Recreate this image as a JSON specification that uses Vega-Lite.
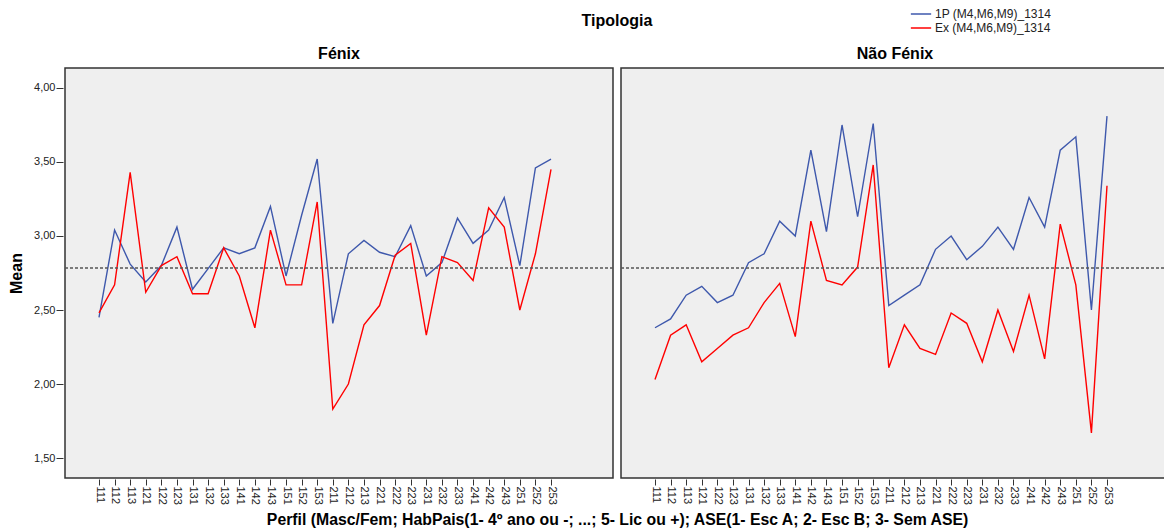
{
  "$schema": "https://vega.github.io/schema/vega-lite/v6.json",
  "background": "white",
  "padding": {"left": 8, "top": 6, "right": 0, "bottom": 0},
  "config": {
    "font": "Liberation Sans",
    "view": {"stroke": "#333333", "strokeWidth": 1.5, "fill": "#efefef"}
  },
  "title": {
    "text": "Perfil (Masc/Fem; HabPais(1- 4º ano ou -; ...; 5- Lic ou +); ASE(1- Esc A; 2- Esc B; 3- Sem ASE)",
    "orient": "bottom",
    "anchor": "middle",
    "fontSize": 15.8,
    "fontWeight": "bold",
    "color": "#000000",
    "offset": 9,
    "dx": 28
  },
  "data": {"values": [
    {"Tipologia":"Fénix","serie":"1P (M4,M6,M9)_1314","Perfil":"111","Mean":2.45},
    {"Tipologia":"Fénix","serie":"1P (M4,M6,M9)_1314","Perfil":"112","Mean":3.04},
    {"Tipologia":"Fénix","serie":"1P (M4,M6,M9)_1314","Perfil":"113","Mean":2.81},
    {"Tipologia":"Fénix","serie":"1P (M4,M6,M9)_1314","Perfil":"121","Mean":2.69},
    {"Tipologia":"Fénix","serie":"1P (M4,M6,M9)_1314","Perfil":"122","Mean":2.80},
    {"Tipologia":"Fénix","serie":"1P (M4,M6,M9)_1314","Perfil":"123","Mean":3.06},
    {"Tipologia":"Fénix","serie":"1P (M4,M6,M9)_1314","Perfil":"131","Mean":2.64},
    {"Tipologia":"Fénix","serie":"1P (M4,M6,M9)_1314","Perfil":"132","Mean":2.78},
    {"Tipologia":"Fénix","serie":"1P (M4,M6,M9)_1314","Perfil":"133","Mean":2.92},
    {"Tipologia":"Fénix","serie":"1P (M4,M6,M9)_1314","Perfil":"141","Mean":2.88},
    {"Tipologia":"Fénix","serie":"1P (M4,M6,M9)_1314","Perfil":"142","Mean":2.92},
    {"Tipologia":"Fénix","serie":"1P (M4,M6,M9)_1314","Perfil":"143","Mean":3.20},
    {"Tipologia":"Fénix","serie":"1P (M4,M6,M9)_1314","Perfil":"151","Mean":2.73},
    {"Tipologia":"Fénix","serie":"1P (M4,M6,M9)_1314","Perfil":"152","Mean":3.14},
    {"Tipologia":"Fénix","serie":"1P (M4,M6,M9)_1314","Perfil":"153","Mean":3.52},
    {"Tipologia":"Fénix","serie":"1P (M4,M6,M9)_1314","Perfil":"211","Mean":2.41},
    {"Tipologia":"Fénix","serie":"1P (M4,M6,M9)_1314","Perfil":"212","Mean":2.88},
    {"Tipologia":"Fénix","serie":"1P (M4,M6,M9)_1314","Perfil":"213","Mean":2.97},
    {"Tipologia":"Fénix","serie":"1P (M4,M6,M9)_1314","Perfil":"221","Mean":2.89},
    {"Tipologia":"Fénix","serie":"1P (M4,M6,M9)_1314","Perfil":"222","Mean":2.86},
    {"Tipologia":"Fénix","serie":"1P (M4,M6,M9)_1314","Perfil":"223","Mean":3.07},
    {"Tipologia":"Fénix","serie":"1P (M4,M6,M9)_1314","Perfil":"231","Mean":2.73},
    {"Tipologia":"Fénix","serie":"1P (M4,M6,M9)_1314","Perfil":"232","Mean":2.82},
    {"Tipologia":"Fénix","serie":"1P (M4,M6,M9)_1314","Perfil":"233","Mean":3.12},
    {"Tipologia":"Fénix","serie":"1P (M4,M6,M9)_1314","Perfil":"241","Mean":2.95},
    {"Tipologia":"Fénix","serie":"1P (M4,M6,M9)_1314","Perfil":"242","Mean":3.04},
    {"Tipologia":"Fénix","serie":"1P (M4,M6,M9)_1314","Perfil":"243","Mean":3.26},
    {"Tipologia":"Fénix","serie":"1P (M4,M6,M9)_1314","Perfil":"251","Mean":2.80},
    {"Tipologia":"Fénix","serie":"1P (M4,M6,M9)_1314","Perfil":"252","Mean":3.46},
    {"Tipologia":"Fénix","serie":"1P (M4,M6,M9)_1314","Perfil":"253","Mean":3.52},
    {"Tipologia":"Fénix","serie":"Ex (M4,M6,M9)_1314","Perfil":"111","Mean":2.48},
    {"Tipologia":"Fénix","serie":"Ex (M4,M6,M9)_1314","Perfil":"112","Mean":2.67},
    {"Tipologia":"Fénix","serie":"Ex (M4,M6,M9)_1314","Perfil":"113","Mean":3.43},
    {"Tipologia":"Fénix","serie":"Ex (M4,M6,M9)_1314","Perfil":"121","Mean":2.62},
    {"Tipologia":"Fénix","serie":"Ex (M4,M6,M9)_1314","Perfil":"122","Mean":2.80},
    {"Tipologia":"Fénix","serie":"Ex (M4,M6,M9)_1314","Perfil":"123","Mean":2.86},
    {"Tipologia":"Fénix","serie":"Ex (M4,M6,M9)_1314","Perfil":"131","Mean":2.61},
    {"Tipologia":"Fénix","serie":"Ex (M4,M6,M9)_1314","Perfil":"132","Mean":2.61},
    {"Tipologia":"Fénix","serie":"Ex (M4,M6,M9)_1314","Perfil":"133","Mean":2.92},
    {"Tipologia":"Fénix","serie":"Ex (M4,M6,M9)_1314","Perfil":"141","Mean":2.73},
    {"Tipologia":"Fénix","serie":"Ex (M4,M6,M9)_1314","Perfil":"142","Mean":2.38},
    {"Tipologia":"Fénix","serie":"Ex (M4,M6,M9)_1314","Perfil":"143","Mean":3.04},
    {"Tipologia":"Fénix","serie":"Ex (M4,M6,M9)_1314","Perfil":"151","Mean":2.67},
    {"Tipologia":"Fénix","serie":"Ex (M4,M6,M9)_1314","Perfil":"152","Mean":2.67},
    {"Tipologia":"Fénix","serie":"Ex (M4,M6,M9)_1314","Perfil":"153","Mean":3.23},
    {"Tipologia":"Fénix","serie":"Ex (M4,M6,M9)_1314","Perfil":"211","Mean":1.83},
    {"Tipologia":"Fénix","serie":"Ex (M4,M6,M9)_1314","Perfil":"212","Mean":2.00},
    {"Tipologia":"Fénix","serie":"Ex (M4,M6,M9)_1314","Perfil":"213","Mean":2.40},
    {"Tipologia":"Fénix","serie":"Ex (M4,M6,M9)_1314","Perfil":"221","Mean":2.53},
    {"Tipologia":"Fénix","serie":"Ex (M4,M6,M9)_1314","Perfil":"222","Mean":2.87},
    {"Tipologia":"Fénix","serie":"Ex (M4,M6,M9)_1314","Perfil":"223","Mean":2.95},
    {"Tipologia":"Fénix","serie":"Ex (M4,M6,M9)_1314","Perfil":"231","Mean":2.33},
    {"Tipologia":"Fénix","serie":"Ex (M4,M6,M9)_1314","Perfil":"232","Mean":2.86},
    {"Tipologia":"Fénix","serie":"Ex (M4,M6,M9)_1314","Perfil":"233","Mean":2.82},
    {"Tipologia":"Fénix","serie":"Ex (M4,M6,M9)_1314","Perfil":"241","Mean":2.70},
    {"Tipologia":"Fénix","serie":"Ex (M4,M6,M9)_1314","Perfil":"242","Mean":3.19},
    {"Tipologia":"Fénix","serie":"Ex (M4,M6,M9)_1314","Perfil":"243","Mean":3.06},
    {"Tipologia":"Fénix","serie":"Ex (M4,M6,M9)_1314","Perfil":"251","Mean":2.50},
    {"Tipologia":"Fénix","serie":"Ex (M4,M6,M9)_1314","Perfil":"252","Mean":2.88},
    {"Tipologia":"Fénix","serie":"Ex (M4,M6,M9)_1314","Perfil":"253","Mean":3.45},
    {"Tipologia":"Não Fénix","serie":"1P (M4,M6,M9)_1314","Perfil":"111","Mean":2.38},
    {"Tipologia":"Não Fénix","serie":"1P (M4,M6,M9)_1314","Perfil":"112","Mean":2.44},
    {"Tipologia":"Não Fénix","serie":"1P (M4,M6,M9)_1314","Perfil":"113","Mean":2.60},
    {"Tipologia":"Não Fénix","serie":"1P (M4,M6,M9)_1314","Perfil":"121","Mean":2.66},
    {"Tipologia":"Não Fénix","serie":"1P (M4,M6,M9)_1314","Perfil":"122","Mean":2.55},
    {"Tipologia":"Não Fénix","serie":"1P (M4,M6,M9)_1314","Perfil":"123","Mean":2.60},
    {"Tipologia":"Não Fénix","serie":"1P (M4,M6,M9)_1314","Perfil":"131","Mean":2.82},
    {"Tipologia":"Não Fénix","serie":"1P (M4,M6,M9)_1314","Perfil":"132","Mean":2.88},
    {"Tipologia":"Não Fénix","serie":"1P (M4,M6,M9)_1314","Perfil":"133","Mean":3.10},
    {"Tipologia":"Não Fénix","serie":"1P (M4,M6,M9)_1314","Perfil":"141","Mean":3.00},
    {"Tipologia":"Não Fénix","serie":"1P (M4,M6,M9)_1314","Perfil":"142","Mean":3.58},
    {"Tipologia":"Não Fénix","serie":"1P (M4,M6,M9)_1314","Perfil":"143","Mean":3.03},
    {"Tipologia":"Não Fénix","serie":"1P (M4,M6,M9)_1314","Perfil":"151","Mean":3.75},
    {"Tipologia":"Não Fénix","serie":"1P (M4,M6,M9)_1314","Perfil":"152","Mean":3.13},
    {"Tipologia":"Não Fénix","serie":"1P (M4,M6,M9)_1314","Perfil":"153","Mean":3.76},
    {"Tipologia":"Não Fénix","serie":"1P (M4,M6,M9)_1314","Perfil":"211","Mean":2.53},
    {"Tipologia":"Não Fénix","serie":"1P (M4,M6,M9)_1314","Perfil":"212","Mean":2.60},
    {"Tipologia":"Não Fénix","serie":"1P (M4,M6,M9)_1314","Perfil":"213","Mean":2.67},
    {"Tipologia":"Não Fénix","serie":"1P (M4,M6,M9)_1314","Perfil":"221","Mean":2.91},
    {"Tipologia":"Não Fénix","serie":"1P (M4,M6,M9)_1314","Perfil":"222","Mean":3.00},
    {"Tipologia":"Não Fénix","serie":"1P (M4,M6,M9)_1314","Perfil":"223","Mean":2.84},
    {"Tipologia":"Não Fénix","serie":"1P (M4,M6,M9)_1314","Perfil":"231","Mean":2.93},
    {"Tipologia":"Não Fénix","serie":"1P (M4,M6,M9)_1314","Perfil":"232","Mean":3.06},
    {"Tipologia":"Não Fénix","serie":"1P (M4,M6,M9)_1314","Perfil":"233","Mean":2.91},
    {"Tipologia":"Não Fénix","serie":"1P (M4,M6,M9)_1314","Perfil":"241","Mean":3.26},
    {"Tipologia":"Não Fénix","serie":"1P (M4,M6,M9)_1314","Perfil":"242","Mean":3.06},
    {"Tipologia":"Não Fénix","serie":"1P (M4,M6,M9)_1314","Perfil":"243","Mean":3.58},
    {"Tipologia":"Não Fénix","serie":"1P (M4,M6,M9)_1314","Perfil":"251","Mean":3.67},
    {"Tipologia":"Não Fénix","serie":"1P (M4,M6,M9)_1314","Perfil":"252","Mean":2.50},
    {"Tipologia":"Não Fénix","serie":"1P (M4,M6,M9)_1314","Perfil":"253","Mean":3.81},
    {"Tipologia":"Não Fénix","serie":"Ex (M4,M6,M9)_1314","Perfil":"111","Mean":2.03},
    {"Tipologia":"Não Fénix","serie":"Ex (M4,M6,M9)_1314","Perfil":"112","Mean":2.33},
    {"Tipologia":"Não Fénix","serie":"Ex (M4,M6,M9)_1314","Perfil":"113","Mean":2.40},
    {"Tipologia":"Não Fénix","serie":"Ex (M4,M6,M9)_1314","Perfil":"121","Mean":2.15},
    {"Tipologia":"Não Fénix","serie":"Ex (M4,M6,M9)_1314","Perfil":"122","Mean":2.24},
    {"Tipologia":"Não Fénix","serie":"Ex (M4,M6,M9)_1314","Perfil":"123","Mean":2.33},
    {"Tipologia":"Não Fénix","serie":"Ex (M4,M6,M9)_1314","Perfil":"131","Mean":2.38},
    {"Tipologia":"Não Fénix","serie":"Ex (M4,M6,M9)_1314","Perfil":"132","Mean":2.55},
    {"Tipologia":"Não Fénix","serie":"Ex (M4,M6,M9)_1314","Perfil":"133","Mean":2.68},
    {"Tipologia":"Não Fénix","serie":"Ex (M4,M6,M9)_1314","Perfil":"141","Mean":2.32},
    {"Tipologia":"Não Fénix","serie":"Ex (M4,M6,M9)_1314","Perfil":"142","Mean":3.10},
    {"Tipologia":"Não Fénix","serie":"Ex (M4,M6,M9)_1314","Perfil":"143","Mean":2.70},
    {"Tipologia":"Não Fénix","serie":"Ex (M4,M6,M9)_1314","Perfil":"151","Mean":2.67},
    {"Tipologia":"Não Fénix","serie":"Ex (M4,M6,M9)_1314","Perfil":"152","Mean":2.79},
    {"Tipologia":"Não Fénix","serie":"Ex (M4,M6,M9)_1314","Perfil":"153","Mean":3.48},
    {"Tipologia":"Não Fénix","serie":"Ex (M4,M6,M9)_1314","Perfil":"211","Mean":2.11},
    {"Tipologia":"Não Fénix","serie":"Ex (M4,M6,M9)_1314","Perfil":"212","Mean":2.40},
    {"Tipologia":"Não Fénix","serie":"Ex (M4,M6,M9)_1314","Perfil":"213","Mean":2.24},
    {"Tipologia":"Não Fénix","serie":"Ex (M4,M6,M9)_1314","Perfil":"221","Mean":2.20},
    {"Tipologia":"Não Fénix","serie":"Ex (M4,M6,M9)_1314","Perfil":"222","Mean":2.48},
    {"Tipologia":"Não Fénix","serie":"Ex (M4,M6,M9)_1314","Perfil":"223","Mean":2.41},
    {"Tipologia":"Não Fénix","serie":"Ex (M4,M6,M9)_1314","Perfil":"231","Mean":2.15},
    {"Tipologia":"Não Fénix","serie":"Ex (M4,M6,M9)_1314","Perfil":"232","Mean":2.50},
    {"Tipologia":"Não Fénix","serie":"Ex (M4,M6,M9)_1314","Perfil":"233","Mean":2.22},
    {"Tipologia":"Não Fénix","serie":"Ex (M4,M6,M9)_1314","Perfil":"241","Mean":2.60},
    {"Tipologia":"Não Fénix","serie":"Ex (M4,M6,M9)_1314","Perfil":"242","Mean":2.17},
    {"Tipologia":"Não Fénix","serie":"Ex (M4,M6,M9)_1314","Perfil":"243","Mean":3.08},
    {"Tipologia":"Não Fénix","serie":"Ex (M4,M6,M9)_1314","Perfil":"251","Mean":2.67},
    {"Tipologia":"Não Fénix","serie":"Ex (M4,M6,M9)_1314","Perfil":"252","Mean":1.67},
    {"Tipologia":"Não Fénix","serie":"Ex (M4,M6,M9)_1314","Perfil":"253","Mean":3.34}
  ]},
  "facet": {
    "column": {
      "field": "Tipologia",
      "type": "nominal",
      "header": {
        "title": "Tipologia",
        "titleFontSize": 16,
        "titleFontWeight": "bold",
        "titleColor": "#000000",
        "titlePadding": 7,
        "labelFontSize": 16,
        "labelFontWeight": "bold",
        "labelColor": "#000000",
        "labelPadding": 5
      }
    }
  },
  "spacing": 4,
  "spec": {
    "width": 548,
    "height": 410,
    "layer": [
      {
        "mark": {"type": "line", "strokeWidth": 1.4},
        "encoding": {
          "x": {
            "field": "Perfil",
            "type": "ordinal",
            "sort": ["111","112","113","121","122","123","131","132","133","141","142","143","151","152","153","211","212","213","221","222","223","231","232","233","241","242","243","251","252","253"],
            "scale": {"type": "point", "padding": 0, "range": [34, 486]},
            "axis": {
              "title": null,
              "labelAngle": 90,
              "labelFontSize": 11,
              "labelColor": "#222222",
              "labelPadding": 1,
              "tickSize": 6,
              "tickColor": "#333333",
              "domain": false,
              "grid": false
            }
          },
          "y": {
            "field": "Mean",
            "type": "quantitative",
            "scale": {"domain": [1.365, 4.135], "nice": false, "zero": false},
            "axis": {
              "title": "Mean",
              "titleFontSize": 16,
              "titleFontWeight": "bold",
              "titleColor": "#000000",
              "titlePadding": 9,
              "values": [1.5, 2.0, 2.5, 3.0, 3.5, 4.0],
              "labelExpr": "replace(format(datum.value, '.2f'), '.', ',')",
              "labelFontSize": 11,
              "labelColor": "#222222",
              "labelPadding": 1,
              "tickSize": 7,
              "tickColor": "#333333",
              "domain": false,
              "grid": false
            }
          },
          "color": {
            "field": "serie",
            "type": "nominal",
            "scale": {"domain": ["1P (M4,M6,M9)_1314", "Ex (M4,M6,M9)_1314"], "range": ["#3e58ac", "#ff0000"]},
            "legend": {
              "title": null,
              "orient": "none",
              "legendX": 848,
              "legendY": -62,
              "padding": 0,
              "symbolType": "M-1.45,0H1.45",
              "symbolSize": 196,
              "symbolStrokeWidth": 1.5,
              "labelFontSize": 12,
              "labelColor": "#222222",
              "rowPadding": 0,
              "labelOffset": 6
            }
          }
        }
      },
      {
        "transform": [{"filter": "datum.Perfil == '111' && datum.serie == '1P (M4,M6,M9)_1314'"}],
        "mark": {"type": "rule", "strokeDash": [3, 2], "color": "#555555", "strokeWidth": 1.5},
        "encoding": {"y": {"datum": 2.784}}
      }
    ]
  }
}
